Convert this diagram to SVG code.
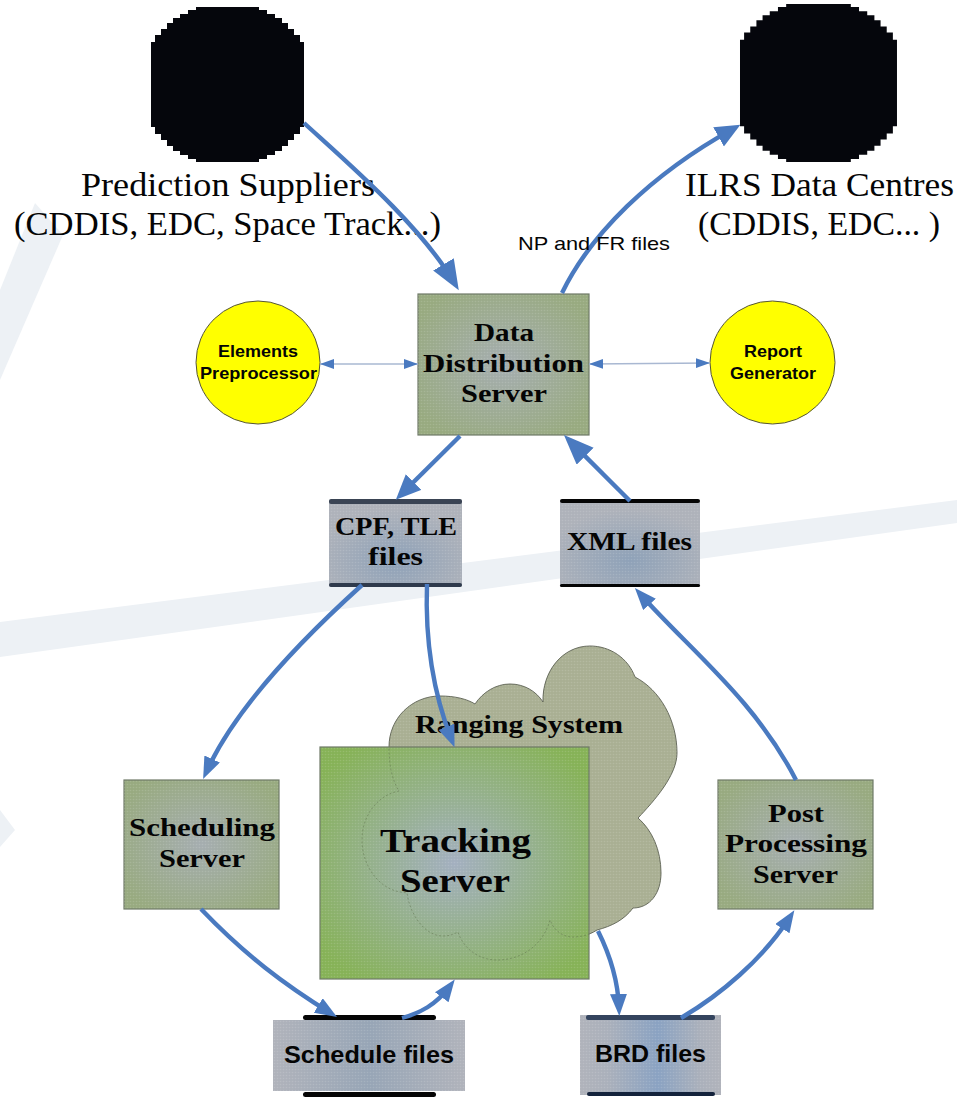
<svg xmlns="http://www.w3.org/2000/svg" width="957" height="1097" viewBox="0 0 957 1097">
<style>
.wm{fill:#edf1f5}
.blob{fill:#05060c}
.sv{font-family:"Liberation Serif","Times New Roman",serif;font-weight:bold;fill:#050505}
.lab{font-family:"Liberation Serif","Times New Roman",serif;fill:#050505;font-size:33px}
.sa{font-family:"Liberation Sans",Arial,sans-serif;fill:#050505}
.sab{font-family:"Liberation Sans",Arial,sans-serif;font-weight:bold;fill:#050505}
.box{stroke:#6f7a68;stroke-width:1.2}
.ell{fill:#ffff00;stroke:#55553a;stroke-width:1}
.dots{fill:url(#dots);stroke:none}
.a{fill:none;stroke:#4a7ac0;stroke-width:4.400}
.t{fill:none;stroke:#a9b8d2;stroke-width:1.6}
.bar{fill:#050505}
</style>
<defs>
<radialGradient id="gBox" cx="50%" cy="50%" r="60%"><stop offset="0" stop-color="#a5adb0"/><stop offset="1" stop-color="#98aa80"/></radialGradient>
<radialGradient id="gTrack" cx="50%" cy="50%" r="62%"><stop offset="0" stop-color="#a3afc0"/><stop offset="1" stop-color="#86b257"/></radialGradient>
<radialGradient id="gFile" cx="50%" cy="70%" r="60%"><stop offset="0" stop-color="#8ea1b8"/><stop offset="1" stop-color="#aeb2ba"/></radialGradient>
<linearGradient id="gBrd" x1="0" x2="1" y1="0" y2="0"><stop offset="0" stop-color="#b0b3bb"/><stop offset=".2" stop-color="#aab0bb"/><stop offset=".55" stop-color="#8aa2c2"/><stop offset=".85" stop-color="#aab0bb"/><stop offset="1" stop-color="#b0b3bb"/></linearGradient>
<linearGradient id="gSch" x1="0" x2="1" y1="0" y2="0"><stop offset="0" stop-color="#b0b3bb"/><stop offset=".5" stop-color="#97a5b6"/><stop offset="1" stop-color="#b0b3bb"/></linearGradient>
<pattern id="dots" width="3" height="3" patternUnits="userSpaceOnUse"><circle cx="1.5" cy="1.5" r=".8" fill="#ffffff" fill-opacity=".13"/></pattern>
<marker id="mB" markerUnits="userSpaceOnUse" markerWidth="34" markerHeight="28" refX="22" refY="12" orient="auto"><path d="M0,0L30,12L0,24Z" fill="#4a7ac0"/></marker>
<marker id="mL" markerUnits="userSpaceOnUse" markerWidth="30" markerHeight="26" refX="17" refY="11" orient="auto"><path d="M0,0L25,11L0,22Z" fill="#4a7ac0"/></marker>
<marker id="mM" markerUnits="userSpaceOnUse" markerWidth="26" markerHeight="20" refX="14" refY="8.500" orient="auto"><path d="M0,0L22,8.500L0,17Z" fill="#4a7ac0"/></marker>
<marker id="mT" markerUnits="userSpaceOnUse" markerWidth="16" markerHeight="12" refX="14" refY="5" orient="auto-start-reverse"><path d="M0,0L14,5L0,10Z" fill="#4a7ac0"/></marker>
<clipPath id="trackClip"><rect x="320" y="747" width="269" height="232"/></clipPath>
<path id="blobShape" d="M195,7H259V10H267V14H275V18H282V23H288V29H294V35H300V42H304V127H300V134H294V140H288V146H282V151H275V155H267V159H259V162H196V159H188V155H180V151H173V146H167V140H161V134H155V127H151V42H155V35H161V29H167V23H173V18H180V14H188V10H196V7Z"/>
<path id="cloudShape" d="M389,747C389,718 412,696 440,696C455,696 467,699 475,704C483,692 496,684 510,684C524,684 536,691 543,702C542,672 562,646 590,646C610,646 628,658 635,677C660,690 677,720 677,753C677,775 655,800 638,818C652,830 661,850 661,873C661,893 650,908 633,908C624,920 612,926 597,930C588,936 578,937 573,937C562,937 554,930 550,920C543,945 522,960 497,960C480,960 464,950 458,932C452,935 448,936 443,936C425,936 410,915 407,893L400,892C378,888 362,865 362,840C362,815 378,795 399,791C392,780 389,765 389,747Z"/>
</defs>

<g id="background">
<polygon class="wm" points="35,203 63,235 0,380 0,290"/>
<polygon class="wm" points="0,622 957,500 957,523 0,657"/>
<polygon class="wm" points="0,810 15,830 0,847"/>
</g>

<g id="prediction-suppliers">
<use href="#blobShape" class="blob"/>
<text class="lab" x="81" y="196" textLength="294" lengthAdjust="spacingAndGlyphs">Prediction Suppliers</text>
<text class="lab" x="14" y="235" textLength="427" lengthAdjust="spacingAndGlyphs">(CDDIS, EDC, Space Track...)</text>
</g>
<g id="ilrs-data-centres">
<use href="#blobShape" class="blob" transform="translate(740,4) scale(1.026,1.019) translate(-151,-7)"/>
<text class="lab" x="685" y="196" textLength="269" lengthAdjust="spacingAndGlyphs">ILRS Data Centres</text>
<text class="lab" x="698" y="235" textLength="242" lengthAdjust="spacingAndGlyphs">(CDDIS, EDC... )</text>
</g>

<g id="ranging-system">
<use href="#cloudShape" fill="#a9af93" stroke="#5a5f50" stroke-width=".9"/>
<use href="#cloudShape" class="dots"/>
<text class="sv" font-size="25" x="415" y="733" textLength="208" lengthAdjust="spacingAndGlyphs">Ranging System</text>
</g>

<g id="tracking-server">
<rect class="box" x="320" y="747" width="269" height="232" fill="url(#gTrack)"/>
<rect class="dots" x="320" y="747" width="269" height="232"/>
<g clip-path="url(#trackClip)"><use href="#cloudShape" fill="none" stroke="#5c6f4a" stroke-opacity=".7" stroke-width=".7" stroke-dasharray="2 2"/></g>
<text class="sv" font-size="34" x="380" y="852" textLength="151" lengthAdjust="spacingAndGlyphs">Tracking</text>
<text class="sv" font-size="34" x="400" y="892" textLength="110" lengthAdjust="spacingAndGlyphs">Server</text>
</g>

<g id="data-distribution-server">
<rect class="box" x="418" y="294" width="171" height="141" fill="url(#gBox)"/>
<rect class="dots" x="418" y="294" width="171" height="141"/>
<text class="sv" font-size="26" x="474" y="341" textLength="60" lengthAdjust="spacingAndGlyphs">Data</text>
<text class="sv" font-size="26" x="423" y="372" textLength="161" lengthAdjust="spacingAndGlyphs">Distribution</text>
<text class="sv" font-size="26" x="461" y="402" textLength="86" lengthAdjust="spacingAndGlyphs">Server</text>
</g>

<g id="elements-preprocessor">
<ellipse class="ell" cx="258" cy="362.500" rx="62" ry="61.500"/>
<text class="sab" font-size="16.500" x="218" y="357" textLength="80" lengthAdjust="spacingAndGlyphs">Elements</text>
<text class="sab" font-size="16.500" x="200" y="379" textLength="117" lengthAdjust="spacingAndGlyphs">Preprocessor</text>
</g>
<g id="report-generator">
<ellipse class="ell" cx="772.500" cy="362.500" rx="62.500" ry="61.500"/>
<text class="sab" font-size="16.500" x="744" y="357" textLength="58" lengthAdjust="spacingAndGlyphs">Report</text>
<text class="sab" font-size="16.500" x="730" y="379" textLength="86" lengthAdjust="spacingAndGlyphs">Generator</text>
</g>

<g id="cpf-tle-files">
<rect x="329" y="500" width="133" height="87" rx="2" fill="url(#gFile)"/>
<rect class="dots" x="329" y="500" width="133" height="87"/>
<rect x="329" y="499" width="133" height="5" rx="2" fill="#3a4454"/>
<rect x="329" y="583" width="133" height="4" rx="2" fill="#2f3a4c"/>
<text class="sv" font-size="26" x="335" y="535" textLength="122" lengthAdjust="spacingAndGlyphs">CPF, TLE</text>
<text class="sv" font-size="26" x="368" y="565" textLength="55" lengthAdjust="spacingAndGlyphs">files</text>
</g>
<g id="xml-files">
<rect x="560" y="500" width="140" height="87" rx="2" fill="url(#gFile)"/>
<rect class="dots" x="560" y="500" width="140" height="87"/>
<rect class="bar" x="560" y="499" width="140" height="4" rx="2"/>
<rect class="bar" x="560" y="584" width="140" height="3" rx="1.500"/>
<text class="sv" font-size="26" x="567" y="550" textLength="125" lengthAdjust="spacingAndGlyphs">XML files</text>
</g>

<g id="scheduling-server">
<rect class="box" x="124" y="780" width="155" height="129" fill="url(#gBox)"/>
<rect class="dots" x="124" y="780" width="155" height="129"/>
<text class="sv" font-size="25" x="129" y="836" textLength="146" lengthAdjust="spacingAndGlyphs">Scheduling</text>
<text class="sv" font-size="25" x="159" y="867" textLength="86" lengthAdjust="spacingAndGlyphs">Server</text>
</g>
<g id="post-processing-server">
<rect class="box" x="718" y="780" width="155" height="129" fill="url(#gBox)"/>
<rect class="dots" x="718" y="780" width="155" height="129"/>
<text class="sv" font-size="25" x="768" y="822" textLength="56" lengthAdjust="spacingAndGlyphs">Post</text>
<text class="sv" font-size="25" x="725" y="852" textLength="142" lengthAdjust="spacingAndGlyphs">Processing</text>
<text class="sv" font-size="25" x="753" y="883" textLength="85" lengthAdjust="spacingAndGlyphs">Server</text>
</g>

<g id="schedule-files">
<rect x="273" y="1020" width="192" height="71" fill="url(#gSch)"/>
<rect class="dots" x="273" y="1020" width="192" height="71"/>
<rect class="bar" x="303" y="1015" width="133" height="5" rx="2.500"/>
<rect class="bar" x="303" y="1092" width="133" height="5" rx="2.500"/>
<text class="sab" font-size="24" x="284" y="1063" textLength="170" lengthAdjust="spacingAndGlyphs">Schedule files</text>
</g>
<g id="brd-files">
<rect x="580" y="1015" width="141" height="80" fill="url(#gBrd)"/>
<rect class="dots" x="580" y="1015" width="141" height="80"/>
<rect x="586" y="1015" width="129" height="5" rx="2" fill="#34445e"/>
<rect x="587" y="1092" width="128" height="4" rx="2" fill="#14233c"/>
<text class="sab" font-size="24" x="595" y="1062" textLength="111" lengthAdjust="spacingAndGlyphs">BRD files</text>
</g>

<g id="connectors">
<path class="a" d="M304,123C350,165 420,225 454.700,283.300" marker-end="url(#mB)"/>
<path class="a" d="M562,293C590,235 650,175 733.400,128.600" marker-end="url(#mL)"/>
<path class="a" d="M460,436L401.500,494" marker-end="url(#mL)"/>
<path class="a" d="M630,501L569.600,440.600" marker-end="url(#mB)"/>
<path class="t" d="M320,364L418,364" marker-start="url(#mT)" marker-end="url(#mT)"/>
<path class="t" d="M589,364L710,363" marker-start="url(#mT)" marker-end="url(#mT)"/>
<path class="a" d="M362,585C290,650 232,715 206.400,771.800" marker-end="url(#mM)"/>
<path class="a" d="M427,584C425,640 432,690 451.600,739.800" marker-end="url(#mM)"/>
<path class="a" d="M796,780C755,700 690,650 640.200,594" marker-end="url(#mM)"/>
<path class="a" d="M201,909C245,955 285,985 330.200,1012.800" marker-end="url(#mM)"/>
<path class="a" d="M402,1018C420,1013 436,1005 450,986" marker-end="url(#mM)"/>
<path class="a" d="M598,931C610,955 618,980 619,1008" marker-end="url(#mM)"/>
<path class="a" d="M681,1018C720,995 762,960 790,917" marker-end="url(#mM)"/>
<text class="sa" font-size="19" x="518" y="250" textLength="152" lengthAdjust="spacingAndGlyphs">NP and FR files</text>
</g>
</svg>
